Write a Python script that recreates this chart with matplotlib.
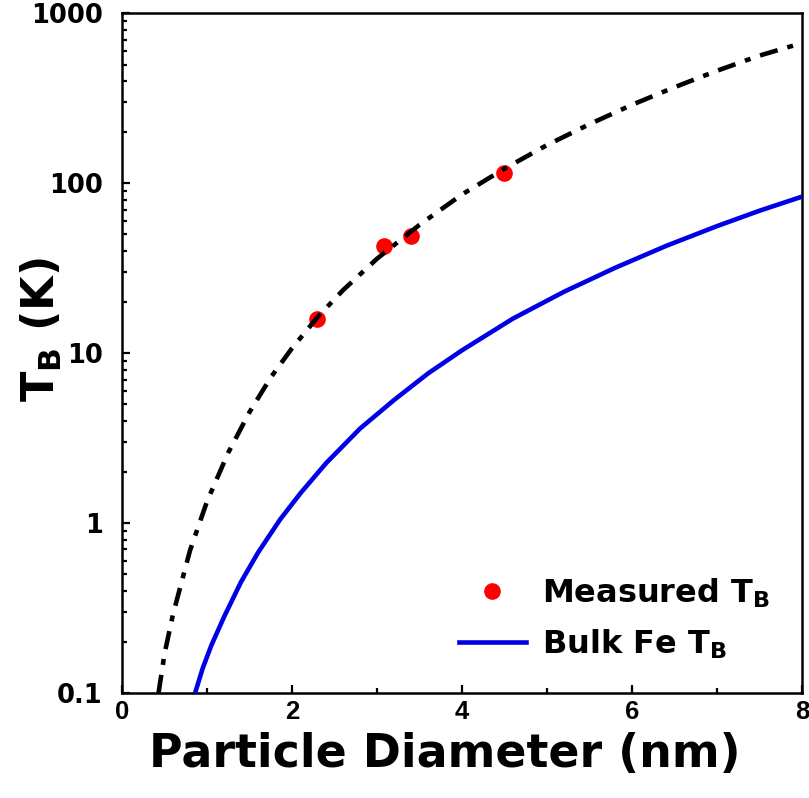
import matplotlib
matplotlib.use('Agg')
import matplotlib.pyplot as plt
from matplotlib.ticker import LogLocator, NullFormatter, MultipleLocator

# Measured blocking temperatures (K) vs particle diameter (nm)
measured_d = [2.3, 3.08, 3.4, 4.5]
measured_tb = [16, 43, 49, 115]

# Fit through the measured points (dash-dot curve)
fit_d = [0.43, 0.5, 0.6, 0.8, 1.0, 1.25, 1.5, 1.75, 2.0, 2.3, 2.6, 3.0,
         3.5, 4.0, 4.5, 5.0, 5.5, 6.0, 6.5, 7.0, 7.5, 8.0]
fit_tb = [0.10, 0.17, 0.29, 0.69, 1.34, 2.6, 4.5, 7.2, 10.7, 16.3, 23.5, 36,
          57, 86, 122, 168, 223, 290, 368, 460, 565, 670]

# Bulk Fe anisotropy curve
bulk_d = [0.86, 0.95, 1.05, 1.2, 1.4, 1.6, 1.86, 2.1, 2.4, 2.8, 3.2, 3.6,
          4.0, 4.6, 5.2, 5.8, 6.4, 7.0, 7.5, 8.0]
bulk_tb = [0.10, 0.14, 0.19, 0.28, 0.45, 0.67, 1.05, 1.5, 2.25, 3.6, 5.3, 7.6,
           10.4, 16.0, 23, 31.8, 42.8, 56, 69, 83.5]

y_ticks = [0.1, 1, 10, 100, 1000]
y_labels = ['0.1', '1', '10', '100', '1000']
x_ticks = [0, 2, 4, 6, 8]

plt.rcParams['font.family'] = 'DejaVu Sans'
plt.rcParams['font.weight'] = 'bold'
plt.rcParams['mathtext.fontset'] = 'dejavusans'

fig = plt.figure(figsize=(8.09, 7.98), dpi=100)
ax = fig.add_axes([0.1508, 0.1316, 0.8405, 0.8515])

pts, = ax.plot(measured_d, measured_tb, 'o', color='#ff0000', ms=12,
               mec='none', zorder=2, label='Measured T$_\\mathbf{B}$')
ax.plot(fit_d, fit_tb, color='black', lw=3.3, dashes=(4.0, 2.2, 1.3, 2.2),
        dash_capstyle='butt', zorder=3)
bulk, = ax.plot(bulk_d, bulk_tb, color='#0000e6', lw=3.3, zorder=3,
                label='Bulk Fe T$_\\mathbf{B}$')

ax.set_yscale('log')
ax.set_xlim(0, 8)
ax.set_ylim(0.1, 1000)

ax.set_yticks(y_ticks, labels=y_labels)
ax.yaxis.set_minor_locator(LogLocator(base=10, subs=range(2, 10)))
ax.yaxis.set_minor_formatter(NullFormatter())
ax.set_xticks(x_ticks, labels=[str(v) for v in x_ticks])
ax.xaxis.set_minor_locator(MultipleLocator(1))

ax.tick_params(axis='both', which='both', direction='in', top=False, right=False,
               width=1.6)
ax.tick_params(axis='both', which='major', length=6)
ax.tick_params(axis='both', which='minor', length=3.5)
ax.tick_params(axis='y', which='major', pad=14, labelsize=18.5)
ax.tick_params(axis='x', which='major', pad=5)
for lab in ax.get_xticklabels():
    lab.set_fontfamily('Liberation Sans')
    lab.set_fontweight('bold')
    lab.set_fontsize(18.5)

for sp in ax.spines.values():
    sp.set_linewidth(1.8)

ax.set_xlabel('Particle Diameter (nm)', fontsize=33, fontweight='bold')
ax.xaxis.set_label_coords(0.475, -0.057)
ax.set_ylabel('$\\mathbf{T_B}$ (K)', fontsize=32, fontweight='bold')
ax.yaxis.set_label_coords(-0.085, 0.534)

ax.legend(handles=[pts, bulk], loc='lower right', frameon=False, fontsize=23,
          handlelength=2.1, handletextpad=0.5, labelspacing=0.55,
          borderaxespad=0.6, borderpad=0.4)

fig.savefig('out.png', dpi=100)
